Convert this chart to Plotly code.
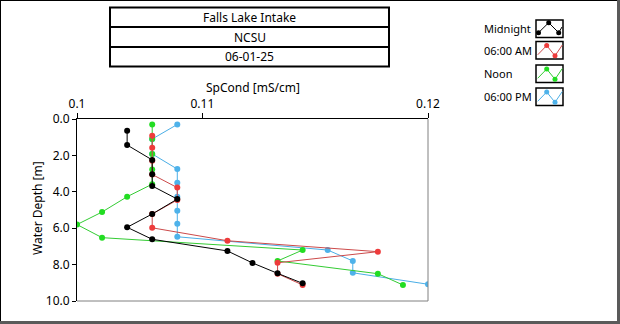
import plotly.graph_objects as go

# Specific conductance profiles (mS/cm) against water depth (m)
depth_midnight = [0.64, 1.43, 2.25, 3.04, 3.68, 4.40, 5.22, 5.95, 6.61, 7.25, 7.91, 8.48, 9.03]
spc_midnight = [0.107, 0.107, 0.108, 0.108, 0.108, 0.109, 0.108, 0.107, 0.108, 0.111, 0.112, 0.113, 0.114]

depth_6am = [0.92, 1.58, 2.30, 3.05, 3.77, 4.45, 5.22, 5.98, 6.69, 7.29, 7.90, 8.50, 9.12]
spc_6am = [0.108, 0.108, 0.108, 0.108, 0.109, 0.109, 0.108, 0.108, 0.111, 0.117, 0.113, 0.113, 0.114]

depth_noon = [0.30, 1.10, 1.92, 2.77, 3.58, 4.27, 5.11, 5.80, 6.52, 7.20, 7.80, 8.50, 9.12]
spc_noon = [0.108, 0.108, 0.108, 0.108, 0.108, 0.107, 0.106, 0.105, 0.106, 0.114, 0.113, 0.117, 0.118]

depth_6pm = [0.30, 1.10, 1.92, 2.75, 3.50, 4.27, 5.04, 5.75, 6.47, 7.20, 7.80, 8.45, 9.08]
spc_6pm = [0.109, 0.108, 0.108, 0.109, 0.109, 0.109, 0.109, 0.109, 0.109, 0.115, 0.116, 0.116, 0.119]

series_names = ["Midnight", "06:00 AM", "Noon", "06:00 PM"]
header_lines = ["Falls Lake Intake", "NCSU", "06-01-25"]

x_ticks = [min(spc_noon), 0.11, max(spc_6pm)]
y_ticks = [0, 2, 4, 6, 8, 10]

FONT = "Noto Sans"
W, H = 620, 324
L, R, T, B = 77, 428, 119, 301  # plot area in pixels

def px(x):
    return (x - L) / (R - L)

def py(y):
    return (B - y) / (B - T)

series = [
    (series_names[3], spc_6pm, depth_6pm, "#4aaee6", "#4eb2ea"),
    (series_names[2], spc_noon, depth_noon, "#33cc33", "#22dd22"),
    (series_names[1], spc_6am, depth_6am, "#cc4a4a", "#ee3b3b"),
    (series_names[0], spc_midnight, depth_midnight, "#000000", "#000000"),
]

fig = go.Figure()
for name, xs, ys, lc, mc in series:
    fig.add_trace(go.Scatter(
        x=xs, y=ys, name=name, mode="lines+markers",
        line=dict(color=lc, width=1),
        marker=dict(color=mc, size=6, symbol="circle"),
        showlegend=False,
    ))

shapes = []
annotations = []

# outer panel frame
shapes.append(dict(type="line", xref="paper", yref="paper", x0=px(0.5), x1=px(0.5), y0=py(0), y1=py(H), line=dict(color="#000000", width=1)))
shapes.append(dict(type="line", xref="paper", yref="paper", x0=px(0), x1=px(W), y0=py(0.5), y1=py(0.5), line=dict(color="#000000", width=1)))
shapes.append(dict(type="rect", xref="paper", yref="paper", x0=px(617), x1=px(W), y0=py(0), y1=py(H), line=dict(width=0), fillcolor="#5a5a5a"))
shapes.append(dict(type="rect", xref="paper", yref="paper", x0=px(0), x1=px(W), y0=py(321), y1=py(H), line=dict(width=0), fillcolor="#5a5a5a"))

# grey right and bottom edges of the plot area
shapes.append(dict(type="line", xref="paper", yref="paper", x0=1, x1=1, y0=0, y1=1, line=dict(color="#808080", width=1)))
shapes.append(dict(type="line", xref="paper", yref="paper", x0=0, x1=1, y0=0, y1=0, line=dict(color="#808080", width=1)))

# header boxes
rows = [(7.5, 27), (27, 47), (47, 66.5)]
for (y0, y1), txt in zip(rows, header_lines):
    shapes.append(dict(type="rect", xref="paper", yref="paper", x0=px(110), x1=px(389), y0=py(y1), y1=py(y0), line=dict(color="#000000", width=2)))
    annotations.append(dict(text=txt, xref="paper", yref="paper", x=px(249.5), y=py((y0 + y1) / 2), xanchor="center", yanchor="middle", showarrow=False, font=dict(family=FONT, size=12, color="#000000")))

# legend panel
legend_tops = [20, 41.5, 65, 88]
legend_colors = [("#000000", "#000000"), ("#cc4a4a", "#ee3b3b"), ("#33cc33", "#22dd22"), ("#4aaee6", "#4eb2ea")]
for i, (top, name, (lc, mc)) in enumerate(zip(legend_tops, series_names, legend_colors)):
    bx0, bx1, by0, by1 = 536, 563, top, top + 17.5
    shapes.append(dict(type="rect", xref="paper", yref="paper", x0=px(bx0), x1=px(bx1), y0=py(by1), y1=py(by0), line=dict(color="#000000", width=1.5), fillcolor="#ffffff"))
    if i == 0:
        pts = [(538.5, top + 12.7), (548.7, top + 2.7), (558.7, top + 12.7), (562, top + 7)]
        marks = pts[:3]
    else:
        pts = [(537.7, top + 13.3), (546.7, top + 4), (555, top + 14.3), (562.3, top + 3.5)]
        marks = pts[1:3]
    path = "M " + " L ".join(f"{px(a)},{py(b)}" for a, b in pts)
    shapes.append(dict(type="path", xref="paper", yref="paper", path=path, line=dict(color=lc, width=1)))
    for a, b in marks:
        shapes.append(dict(type="circle", xref="paper", yref="paper", x0=px(a - 2.5), x1=px(a + 2.5), y0=py(b + 2.5), y1=py(b - 2.5), line=dict(width=0), fillcolor=mc))
    annotations.append(dict(text=name, xref="paper", yref="paper", x=px(482), y=py(top + 8.5), xanchor="left", yanchor="middle", showarrow=False, font=dict(family=FONT, size=11, color="#000000")))

# axis titles
annotations.append(dict(text="SpCond [mS/cm]", xref="paper", yref="paper", x=0.5, y=py(87), xanchor="center", yanchor="middle", showarrow=False, font=dict(family=FONT, size=12, color="#000000")))
annotations.append(dict(text="Water Depth [m]", xref="paper", yref="paper", x=px(37), y=py(208), xanchor="center", yanchor="middle", textangle=-90, showarrow=False, font=dict(family=FONT, size=12, color="#000000")))

fig.update_layout(
    width=W, height=H,
    margin=dict(l=L, r=W - R, t=T, b=H - B, pad=0),
    paper_bgcolor="#ffffff", plot_bgcolor="#ffffff",
    font=dict(family=FONT, size=12, color="#000000"),
    shapes=shapes, annotations=annotations,
    xaxis=dict(
        side="top", range=[min(spc_noon), max(spc_6pm)],
        tickvals=x_ticks, tickformat=".2~f",
        ticks="outside", ticklen=5, tickcolor="#000000", tickwidth=1,
        showline=True, linecolor="#000000", linewidth=1,
        showgrid=False, zeroline=False,
        tickfont=dict(family=FONT, size=12, color="#000000"),
    ),
    yaxis=dict(
        range=[10, 0], tickvals=y_ticks, tickformat=".1f",
        ticks="outside", ticklen=4, tickcolor="#000000", tickwidth=1,
        showline=True, linecolor="#000000", linewidth=1,
        showgrid=False, zeroline=False,
        tickfont=dict(family=FONT, size=12, color="#000000"),
    ),
)

fig.write_html("out.html")
